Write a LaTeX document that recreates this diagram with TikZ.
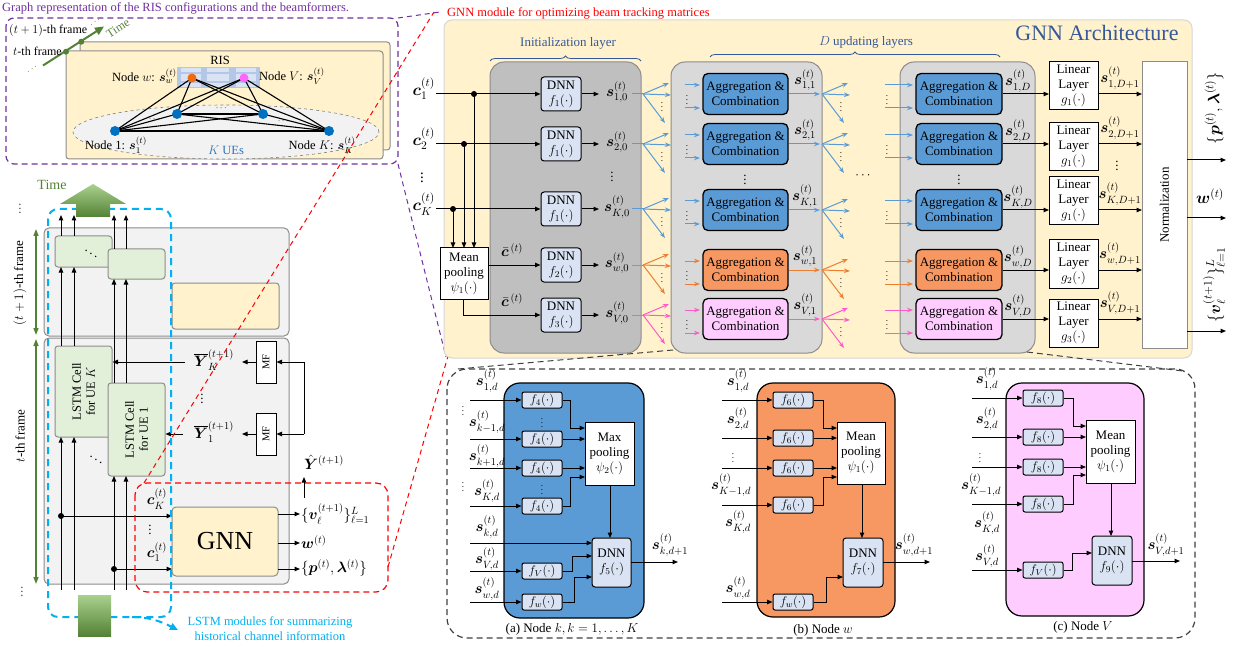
\RequirePackage{fix-cm}
\documentclass[tikz,border=0pt]{standalone}
\usepackage{amsmath,amssymb}
\usepackage{bm}
\usepackage{fontspec}
\setmainfont{Liberation Serif}
\usetikzlibrary{arrows.meta,shapes.geometric,decorations.pathreplacing,calc}
\definecolor{yel}{HTML}{FFF2CC}
\definecolor{framefill}{HTML}{F2F2F2}
\definecolor{framedraw}{HTML}{8C8C8C}
\definecolor{lstmfill}{HTML}{E2F0D9}
\definecolor{tgreen}{HTML}{548235}
\definecolor{lgreen}{HTML}{A9D18E}
\definecolor{cyanc}{HTML}{00B0F0}
\definecolor{purp}{HTML}{7030A0}
\definecolor{initfill}{HTML}{BFBFBF}
\definecolor{updfill}{HTML}{D9D9D9}
\definecolor{dnnfill}{HTML}{DAE3F3}
\definecolor{bluef}{HTML}{5B9BD5}
\definecolor{orangef}{HTML}{F79862}
\definecolor{orangea}{HTML}{ED7D31}
\definecolor{pinkf}{HTML}{FFCCFF}
\definecolor{pinka}{HTML}{FF5BC8}
\definecolor{archblue}{HTML}{35589A}
\definecolor{risblue}{HTML}{B4C7E7}
\definecolor{uenode}{HTML}{0070C0}
\definecolor{wnode}{HTML}{F2690D}
\definecolor{vnode}{HTML}{FF66FF}
\definecolor{uetext}{HTML}{2E75B6}
\definecolor{redc}{HTML}{FF0000}
\definecolor{panelborder}{HTML}{D6D6D6}
\newcommand{\myfanout}[3]{%
  \draw[#3,farr] (#1,#2) -- ++(26,-11);
  \draw[#3,farr] (#1,#2) -- ++(28,1);
  \draw[#3,farr] (#1,#2) -- ++(22,29);
  \node[smalldots] at (#1+19,#2+10) {$\vdots$};
}
\newcommand{\myfanin}[4]{%
  \draw[#3,farr] (#1,#2-9) -- ++(#4,0);
  \draw[#3,farr] (#1,#2+14) -- ++(#4,0);
  \node[smalldots] at (#1+2,#2+3) {$\vdots$};
}
\begin{document}
\begin{tikzpicture}[x=1pt,y=-1pt,font=\fontsize{13}{15}\selectfont,
  arr/.style={-{Triangle[length=5.5pt,width=4.5pt]},line width=1pt},
  farr/.style={-{Stealth[length=6pt,width=4.5pt]},line width=1pt},
  smalldots/.style={font=\fontsize{9}{9}\selectfont,inner sep=0pt},
  dnn/.style={draw=black,fill=dnnfill,rounded corners=3pt,line width=1pt,minimum width=40pt,minimum height=34pt,inner sep=0pt,align=center},
  agg/.style={draw=black,rounded corners=5pt,line width=1.3pt,minimum width=85pt,minimum height=41pt,inner sep=0pt,align=center},
  lin/.style={draw=black,fill=white,line width=1pt,minimum width=49pt,minimum height=48pt,inner sep=0pt,align=center},
  fbox/.style={draw=black,fill=dnnfill,rounded corners=2pt,line width=1pt,minimum width=40pt,minimum height=16pt,inner sep=0pt,font=\fontsize{12.5}{13}\selectfont},
  pool/.style={draw=black,fill=white,line width=1pt,inner sep=0pt,align=center},
  lstm/.style={draw=framedraw,fill=lstmfill,rounded corners=3pt,line width=1pt,inner sep=0pt},
  dot/.style={circle,fill=black,minimum size=6pt,inner sep=0pt},
  lbl/.style={inner sep=0pt,font=\fontsize{15}{16}\selectfont},
  bigl/.style={inner sep=0pt,font=\fontsize{16.5}{17}\selectfont}]
\useasboundingbox (0,0) rectangle (1237,647);

% ================= top-left RIS graph panel
\node[anchor=west,text=purp,font=\fontsize{12.5}{14}\selectfont,inner sep=0pt] (ttl) at (2,8) {Graph representation of the RIS configurations and the beamformers.};
\draw[purp,line width=1.2pt,dash pattern=on 6pt off 4pt,rounded corners=8pt] (6,18) rectangle (398,164);
\draw[framedraw,fill=yel,line width=1pt,rounded corners=3pt] (80,42) rectangle (390,150);
\draw[framedraw,fill=yel,line width=1pt,rounded corners=3pt] (66,51) rectangle (383,159);
\draw[gray,dashed,fill=framefill,line width=0.6pt] (226,132) ellipse [x radius=153pt,y radius=27pt];
\node[fill=risblue,minimum width=83pt,minimum height=21pt,inner sep=0pt] (ris) at (218.5,77.5) {};
\foreach \cx/\cw in {191/20,218/22,245.5/20}
  \foreach \cy/\ch in {70.5/4,78/7,85/4}
    \fill[dnnfill] (\cx-\cw/2,\cy-\ch/2) rectangle ++(\cw,\ch);
\node[font=\fontsize{12.5}{13}\selectfont] (ristxt) at (220,60) {RIS};
\coordinate (gw) at (192,78);
\coordinate (gv) at (244,78);
\coordinate (g1) at (115,131);
\coordinate (g2) at (177,114);
\coordinate (g3) at (263,114);
\coordinate (gK) at (329,131);
\foreach \a/\b in {gw/g1,gw/g2,gw/g3,gw/gK,gv/g1,gv/g2,gv/g3,gv/gK,g1/g2,g1/g3,g1/gK,g2/g3,g2/gK,g3/gK}
  \draw[line width=1.1pt] (\a) -- (\b);
\node[circle,fill=wnode,minimum size=9pt,inner sep=0pt] (nw) at (gw) {};
\node[circle,fill=vnode,minimum size=9pt,inner sep=0pt] (nv) at (gv) {};
\foreach \g in {g1,g2,g3,gK}
  \node[circle,fill=uenode,minimum size=10pt,inner sep=0pt] at (\g) {};
\node[smalldots] at (155,119) {$\cdots$};
\node[smalldots] at (222,108) {$\cdots$};
\node[smalldots] at (284,121) {$\cdots$};
\node[smalldots] at (222,132) {$\cdots$};
\node[anchor=east,font=\fontsize{12.5}{13}\selectfont,inner sep=0pt] (lw) at (177,76) {Node $w$: $\bm{s}_w^{(t)}$};
\node[anchor=west,font=\fontsize{12.5}{13}\selectfont,inner sep=0pt] (lv) at (259,76) {Node $V$: $\bm{s}_V^{(t)}$};
\node[font=\fontsize{12.5}{13}\selectfont,inner sep=0pt] (l1) at (116,145) {Node 1: $\bm{s}_1^{(t)}$};
\node[font=\fontsize{12.5}{13}\selectfont,inner sep=0pt] (lK) at (322,145) {Node $K$: $\bm{s}_K^{(t)}$};
\node[text=uetext,font=\fontsize{12.5}{13}\selectfont,inner sep=0pt] (kues) at (226,150) {$K$ UEs};
\draw[tgreen,line width=2pt,-{Triangle[length=9pt,width=8pt]}] (43,65.5) -- (104,26.5);
\node[circle,fill=tgreen,minimum size=6pt,inner sep=0pt] (td1) at (66,51.7) {};
\node[circle,fill=tgreen,minimum size=6pt,inner sep=0pt] (td2) at (81.3,41.7) {};
\node[rotate=33,text=tgreen,smalldots] at (33,69) {$\cdots$};
\node[rotate=33,text=tgreen,smalldots] at (96,22) {$\cdots$};
\node[rotate=33,text=tgreen,font=\fontsize{12}{13}\selectfont,inner sep=0pt] (timetxt) at (118,28) {Time};
\node[anchor=west,font=\fontsize{12}{13}\selectfont,inner sep=0pt] (fr1) at (9,31) {$(t+1)$-th frame};
\node[anchor=west,font=\fontsize{12}{13}\selectfont,inner sep=0pt] (fr0) at (13,51) {$t$-th frame};

% ================= left LSTM part
\draw[framedraw,fill=framefill,line width=1pt,rounded corners=5pt] (44,228) rectangle (289,336);
\draw[framedraw,fill=framefill,line width=1pt,rounded corners=5pt] (44,338) rectangle (289,584);
\node[lstm,minimum width=57pt,minimum height=31pt] (ub) at (83.5,251.5) {};
\node at (91,251) {$\ddots$};
\node[lstm,minimum width=57pt,minimum height=30pt] (uf) at (136.5,264) {};
\node[draw=framedraw,fill=yel,rounded corners=3pt,line width=1pt,minimum width=107pt,minimum height=46pt] (uy) at (225.5,306) {};
\node[lstm,minimum width=57pt,minimum height=91pt] (lsK) at (83.5,391.5) {};
\node[rotate=90,align=center,font=\fontsize{12.5}{14}\selectfont] at (lsK) {LSTM Cell\\for UE $K$};
\node[lstm,minimum width=57pt,minimum height=93pt] (ls1) at (136.5,429.5) {};
\node[rotate=90,align=center,font=\fontsize{12.5}{14}\selectfont] at (ls1) {LSTM Cell\\for UE 1};
\node at (96,457) {$\ddots$};
\foreach \x in {61,74} {
  \draw[arr] (\x,590) -- (\x,437);
  \draw[arr] (\x,346) -- (\x,267);
  \draw[arr] (\x,236) -- (\x,215);
}
\foreach \x in {114,126} {
  \draw[arr] (\x,590) -- (\x,476);
  \draw[arr] (\x,383) -- (\x,279);
  \draw[arr] (\x,249) -- (\x,215);
}
% GNN block
\node[draw=framedraw,fill=yel,rounded corners=4pt,line width=1pt,minimum width=106pt,minimum height=69pt,font=\fontsize{26}{28}\selectfont] (gnn) at (225,541.5) {GNN};
\node[dot] (dK) at (61,516) {};
\node[dot] (d1) at (114,569) {};
\draw[arr] (dK.center) -- (172,516);
\draw[arr] (d1.center) -- (172,569);
\node[lbl] (cK) at (157,499) {$\bm{c}_K^{(t)}$};
\node[lbl] (c1) at (157,552) {$\bm{c}_1^{(t)}$};
\node at (150,527) {$\vdots$};
\draw[arr] (278,514) -- (300,514);
\draw[arr] (278,543) -- (300,543);
\draw[arr] (278,569) -- (300,569);
\node[anchor=west,lbl] (ov) at (301,514) {$\{\bm{v}_\ell^{(t+1)}\}_{\ell=1}^{L}$};
\node[anchor=west,lbl] (ow) at (301,542) {$\bm{w}^{(t)}$};
\node[anchor=west,lbl] (op) at (301,568) {$\{\bm{p}^{(t)},\bm{\lambda}^{(t)}\}$};
% MF
\node[draw,fill=white,line width=1pt,minimum width=20pt,minimum height=42pt,inner sep=0pt] (mfK) at (266,362) {};
\node[rotate=90,font=\fontsize{10.5}{11}\selectfont] at (mfK) {MF};
\node[draw,fill=white,line width=1pt,minimum width=20pt,minimum height=42pt,inner sep=0pt] (mf1) at (266,434) {};
\node[rotate=90,font=\fontsize{10.5}{11}\selectfont] at (mf1) {MF};
\draw[arr] (304,434) |- (mfK.east);
\draw[arr] (304,434) -- (mf1.east);
\draw[arr] (mfK.west) -- (242,362);
\draw[arr] (mf1.west) -- (242,434);
\node[lbl] (yK) at (214,360) {$\overline{\bm{Y}}_{K}^{(t+1)}$};
\node[lbl] (y1) at (214,432) {$\overline{\bm{Y}}_{1}^{(t+1)}$};
\draw[arr] (185,362) -- (lsK.east |- 0,362);
\draw[arr] (183,434) -- (ls1.east |- 0,434);
\node at (202,396) {$\vdots$};
\node[lbl] (yhat) at (324,462) {$\hat{\bm{Y}}^{(t+1)}$};
\draw[arr] (304,498) -- (304,477);
% red box
\draw[redc,line width=1.2pt,dash pattern=on 6pt off 4pt,rounded corners=12pt] (135,483) rectangle (388,592);
\draw[redc,line width=1pt,dash pattern=on 5pt off 4pt] (144,483) -- (434,12);
\draw[redc,line width=1pt,dash pattern=on 5pt off 4pt] (388,567) -- (448,356);
\draw[purp,line width=1pt,dash pattern=on 5pt off 4pt] (398,18) -- (440,12);
\draw[purp,line width=1pt,dash pattern=on 5pt off 4pt] (398,164) -- (446,357);
% cyan dashed box
\draw[cyanc,line width=2pt,dash pattern=on 7pt off 5pt,rounded corners=10pt] (48,209) rectangle (171,617);
\draw[cyanc,line width=2pt,dash pattern=on 7pt off 5pt,-{Triangle[length=8pt,width=7pt]}] (132,617) .. controls (150,617) and (162,622) .. (178,630);
\node[text=cyanc,align=center,font=\fontsize{12.5}{15}\selectfont] (lstmtxt) at (270,629) {LSTM modules for summarizing\\historical channel information};
% green time arrows
\shade[top color=lgreen,bottom color=tgreen] (60,204) -- (93,184) -- (126,204) -- (110,204) -- (110,217) -- (76,217) -- (76,204) -- cycle;
\shade[top color=lgreen,bottom color=tgreen] (78,595) rectangle (111,636);
\node[text=tgreen,font=\fontsize{14}{15}\selectfont] (timel) at (52,185) {Time};
\draw[tgreen,line width=1.5pt,{Triangle[length=7pt,width=5pt]}-{Triangle[length=7pt,width=5pt]}] (36,229) -- (36,335);
\draw[tgreen,line width=1.5pt,{Triangle[length=7pt,width=5pt]}-{Triangle[length=7pt,width=5pt]}] (36,339) -- (36,584);
\node[rotate=90] (frA) at (20,283) {$(t+1)$-th frame};
\node[rotate=90] (frB) at (20,436) {$t$-th frame};
\node[text=black!70] at (20,206) {$\vdots$};
\node[text=tgreen!70!black] at (22,589) {$\vdots$};

% ================= GNN architecture panel
\draw[panelborder,fill=yel,line width=1pt,rounded corners=8pt] (444,20) rectangle (1192,358);
\node[text=redc,anchor=west,font=\fontsize{12.5}{14}\selectfont,inner sep=0pt] (gtitle) at (447,13) {GNN module for optimizing beam tracking matrices};
\node[text=archblue,font=\fontsize{22}{24}\selectfont] (garch) at (1097,33) {GNN Architecture};
\draw[framedraw,fill=initfill,line width=1pt,rounded corners=14pt] (490,62) rectangle (641,353);
\draw[framedraw,fill=updfill,line width=1pt,rounded corners=14pt] (671,62) rectangle (822,353);
\draw[framedraw,fill=updfill,line width=1pt,rounded corners=14pt] (900,62) rectangle (1035,353);
\draw[archblue,line width=0.8pt,decorate,decoration={brace,amplitude=5pt}] (490,61) -- (641,61);
\node[text=archblue] (initl) at (568,43) {Initialization layer};
\draw[archblue,line width=0.8pt,decorate,decoration={brace,amplitude=5pt}] (710,57) -- (1000,57);
\node[text=archblue] (updl) at (866,42) {$D$ updating layers};
% inputs
\node[anchor=east,bigl] (ci1) at (435,89) {$\bm{c}_1^{(t)}$};
\node[anchor=east,bigl] (ci2) at (435,139) {$\bm{c}_2^{(t)}$};
\node[font=\fontsize{15}{16}\selectfont] (cid) at (422,175) {$\vdots$};
\node[anchor=east,bigl] (ciK) at (435,204) {$\bm{c}_K^{(t)}$};
\node[pool,minimum width=48pt,minimum height=51pt] (mp) at (464,273.5) {Mean\\pooling\\$\psi_1(\cdot)$};
\node[dnn] (n1) at (561,94) {DNN\\$f_1(\cdot)$};
\node[dnn] (n2) at (561,144) {DNN\\$f_1(\cdot)$};
\node[dnn] (nK) at (561,209) {DNN\\$f_1(\cdot)$};
\node[dnn] (nw) at (561,265) {DNN\\$f_2(\cdot)$};
\node[dnn] (nV) at (561,315) {DNN\\$f_3(\cdot)$};
\draw[arr] (436,94) -- (n1.west);
\draw[arr] (436,144) -- (n2.west);
\draw[arr] (436,209) -- (nK.west);
\node[dot] (e1) at (474,94) {};
\node[dot] (e2) at (464,144) {};
\node[dot] (eK) at (453,209) {};
\draw[arr] (e1.center) -- (474,248);
\draw[arr] (e2.center) -- (464,248);
\draw[arr] (eK.center) -- (453,248);
\draw[arr] (488,265) -- (nw.west);
\draw[arr] (463,299) |- (nV.west);
\node[lbl] (cb1) at (512,250) {$\bar{\bm{c}}^{\,(t)}$};
\node[lbl] (cb2) at (512,300) {$\bar{\bm{c}}^{\,(t)}$};
% init outputs
\foreach \n/\y/\s in {n1/94/{1,0},n2/144/{2,0},nK/209/{K,0},nw/265/{w,0},nV/315/{V,0}} {
  \draw[arr] (\n.east) -- (599,\y);
  \node[lbl] at (617,\y-2) {$\bm{s}^{(t)}_{\s}$};
}
\node at (612,174) {$\vdots$};
\foreach \y/\c in {94/bluef,144/bluef,209/bluef,265/orangea,315/pinka} {
  \draw[\c,line width=1pt] (632,\y) -- (643,\y);
  \myfanout{643}{\y}{\c}
}
% layer 1
\foreach \y/\c/\f/\n in {94/bluef/bluef/a1,144/bluef/bluef/a2,210/bluef/bluef/aK,270/orangea/orangef/aw,319/pinka/pinkf/aV} {
  \node[agg,fill=\f] (\n) at (745.5,\y) {Aggregation \&\\Combination};
  \myfanin{685}{\y}{\c}{15}
  \draw[\c,farr] (\n.east) -- (820,\y);
  \myfanout{822}{\y}{\c}
}
\foreach \y/\s in {94/{1,1},144/{2,1},210/{K,1},270/{w,1},319/{V,1}}
  \node[lbl] at (805,\y-14) {$\bm{s}^{(t)}_{\s}$};
\node at (745,177) {$\vdots$};
\node (hd) at (864,176) {$\cdots$};
% layer D
\foreach \y/\c/\f/\n in {94/bluef/bluef/b1,144/bluef/bluef/b2,210/bluef/bluef/bK,270/orangea/orangef/bw,319/pinka/pinkf/bV} {
  \node[agg,fill=\f,minimum width=86pt] (\n) at (959,\y) {Aggregation \&\\Combination};
  \myfanin{885}{\y}{\c}{28}
  \draw[arr] (\n.east) -- (1049,\y);
  \draw[arr] (1098,\y) -- (1142,\y);
}
\foreach \y/\s in {94/{1,D},144/{2,D},210/{K,D},270/{w,D},319/{V,D}}
  \node[lbl] at (1018,\y-13) {$\bm{s}^{(t)}_{\s}$};
\foreach \y/\s in {94/{1,D+1},144/{2,D+1},210/{K,D+1},270/{w,D+1},319/{V,D+1}}
  \node[lbl] at (1120,\y-16) {$\bm{s}^{(t)}_{\s}$};
\node at (959,177) {$\vdots$};
\node at (1117,163) {$\vdots$};
\node[lin] (L1) at (1073.5,86) {Linear\\Layer\\$g_1(\cdot)$};
\node[lin] (L2) at (1073.5,147) {Linear\\Layer\\$g_1(\cdot)$};
\node[lin] (LK) at (1073.5,201) {Linear\\Layer\\$g_1(\cdot)$};
\node[lin] (Lw) at (1073.5,264) {Linear\\Layer\\$g_2(\cdot)$};
\node[lin] (LV) at (1073.5,323) {Linear\\Layer\\$g_3(\cdot)$};
\node[draw=framedraw,fill=white,line width=1pt,minimum width=45pt,minimum height=286pt,inner sep=0pt] (norm) at (1164.5,205) {};
\node[rotate=90] at (norm) {Normalization};
\draw[arr] (1187,160) -- (1226,160);
\draw[arr] (1187,218) -- (1226,218);
\draw[arr] (1187,331) -- (1226,331);
\node[rotate=90,bigl] (op2) at (1214,108) {$\{\bm{p}^{(t)},\bm{\lambda}^{(t)}\}$};
\node[bigl] (ow2) at (1210,196) {$\bm{w}^{(t)}$};
\node[rotate=90,bigl] (ov2) at (1214,285) {$\{\bm{v}_\ell^{(t+1)}\}_{\ell=1}^{L}$};

% ================= bottom detail panel
\draw[black!75,line width=1pt,dash pattern=on 6pt off 4pt] (673,350) -- (458,369);
\draw[black!75,line width=1pt,dash pattern=on 6pt off 4pt] (1027,352) -- (1183,371);
\draw[black!75,line width=1.2pt,dash pattern=on 6pt off 4pt,rounded corners=20pt] (447,369) rectangle (1195,638);

% (a)
\draw[black,fill=bluef,line width=1.2pt,rounded corners=16pt] (504,383) rectangle (644,618);
\foreach \n/\y in {a41/400,a42/439,a43/468,a44/506} {
  \node[fbox] (\n) at (542,\y) {$f_4(\cdot)$};
  \draw[arr] (470,\y) -- (\n.west);
}
\node[smalldots] at (542,420) {$\vdots$};
\node[smalldots] at (542,487) {$\vdots$};
\node[fbox] (aV) at (542,571) {$f_V(\cdot)$};
\node[fbox] (aW) at (542,602) {$f_w(\cdot)$};
\node[pool,minimum width=49pt,minimum height=63pt] (pa) at (609.5,453.5) {Max\\pooling\\$\psi_2(\cdot)$};
\node[dnn,minimum width=39pt,minimum height=49pt] (da) at (611.5,562.5) {DNN\\$f_5(\cdot)$};
\draw[arr] (a41.east) -- (570,400) -- (570,428) -- (585,428);
\draw[arr] (a42.east) -- (585,439);
\draw[arr] (a43.east) -- (585,468);
\draw[arr] (a44.east) -- (570,506) -- (570,477) -- (585,477);
\draw[arr] (610,485) -- (610,538);
\draw[arr] (470,543) -- (592,543);
\draw[arr] (470,571) -- (aV.west);
\draw[arr] (470,602) -- (aW.west);
\draw[arr] (aV.east) -- (572,571) -- (572,556) -- (592,556);
\draw[arr] (aW.east) -- (574,602) -- (574,577) -- (592,577);
\draw[arr] (631,562) -- (678,562);
\node[lbl] at (487,381) {$\bm{s}^{(t)}_{1,d}$};
\node[smalldots] at (463,408) {$\vdots$};
\node[lbl] at (487,422) {$\bm{s}^{(t)}_{k-1,d}$};
\node[lbl] at (487,456) {$\bm{s}^{(t)}_{k+1,d}$};
\node[smalldots] at (463,484) {$\vdots$};
\node[lbl] at (487,491) {$\bm{s}^{(t)}_{K,d}$};
\node[lbl] at (487,527) {$\bm{s}^{(t)}_{k,d}$};
\node[lbl] at (487,559) {$\bm{s}^{(t)}_{V,d}$};
\node[lbl] at (487,589) {$\bm{s}^{(t)}_{w,d}$};
\node[lbl] at (670,545) {$\bm{s}^{(t)}_{k,d+1}$};
\node (capa) at (572,629) {(a) Node $k, k=1,\ldots,K$};

% (b)
\draw[black,fill=orangef,line width=1.2pt,rounded corners=16pt] (757,383) rectangle (895,617);
\foreach \n/\y in {b61/400,b62/438,b63/468,b64/505} {
  \node[fbox] (\n) at (793,\y) {$f_6(\cdot)$};
  \draw[arr] (722,\y) -- (\n.west);
}
\node[fbox] (bW) at (793,602) {$f_w(\cdot)$};
\node[pool,minimum width=48pt,minimum height=62pt] (pb) at (861,453) {Mean\\pooling\\$\psi_1(\cdot)$};
\node[dnn,minimum width=40pt,minimum height=49pt] (db) at (863,562.5) {DNN\\$f_7(\cdot)$};
\draw[arr] (b61.east) -- (823,400) -- (823,428) -- (837,428);
\draw[arr] (b62.east) -- (837,438);
\draw[arr] (b63.east) -- (837,468);
\draw[arr] (b64.east) -- (823,505) -- (823,477) -- (837,477);
\draw[arr] (862,484) -- (862,538);
\draw[arr] (722,602) -- (bW.west);
\draw[arr] (bW.east) -- (826,602) -- (826,577) -- (843,577);
\draw[arr] (883,562) -- (930,562);
\node[lbl] at (738,381) {$\bm{s}^{(t)}_{1,d}$};
\node[lbl] at (738,419) {$\bm{s}^{(t)}_{2,d}$};
\node[smalldots] at (733,455) {$\vdots$};
\node[lbl] at (731,485) {$\bm{s}^{(t)}_{K-1,d}$};
\node[lbl] at (738,522) {$\bm{s}^{(t)}_{K,d}$};
\node[lbl] at (738,588) {$\bm{s}^{(t)}_{w,d}$};
\node[lbl] at (914,545) {$\bm{s}^{(t)}_{w,d+1}$};
\node (capb) at (823,630) {(b) Node $w$};

% (c)
\draw[black,fill=pinkf,line width=1.2pt,rounded corners=16pt] (1006,383) rectangle (1144,616);
\foreach \n/\y in {c81/398,c82/437,c83/467,c84/504} {
  \node[fbox] (\n) at (1043,\y) {$f_8(\cdot)$};
  \draw[arr] (972,\y) -- (\n.west);
}
\node[fbox] (cV) at (1043,570) {$f_V(\cdot)$};
\node[pool,minimum width=49pt,minimum height=63pt] (pc) at (1110.5,451.5) {Mean\\pooling\\$\psi_1(\cdot)$};
\node[dnn,minimum width=40pt,minimum height=49pt] (dc) at (1112,560.5) {DNN\\$f_9(\cdot)$};
\draw[arr] (c81.east) -- (1073,398) -- (1073,426) -- (1086,426);
\draw[arr] (c82.east) -- (1086,437);
\draw[arr] (c83.east) -- (1086,467);
\draw[arr] (c84.east) -- (1073,504) -- (1073,475) -- (1086,475);
\draw[arr] (1111,483) -- (1111,536);
\draw[arr] (972,570) -- (cV.west);
\draw[arr] (cV.east) -- (1072,570) -- (1072,553) -- (1092,553);
\draw[arr] (1132,561) -- (1180,561);
\node[lbl] at (987,379) {$\bm{s}^{(t)}_{1,d}$};
\node[lbl] at (987,419) {$\bm{s}^{(t)}_{2,d}$};
\node[smalldots] at (980,455) {$\vdots$};
\node[lbl] at (981,485) {$\bm{s}^{(t)}_{K-1,d}$};
\node[lbl] at (987,523) {$\bm{s}^{(t)}_{K,d}$};
\node[lbl] at (987,556) {$\bm{s}^{(t)}_{V,d}$};
\node[lbl] at (1166,545) {$\bm{s}^{(t)}_{V,d+1}$};
\node (capc) at (1083,627) {(c) Node $V$};
\end{tikzpicture}
\end{document}
